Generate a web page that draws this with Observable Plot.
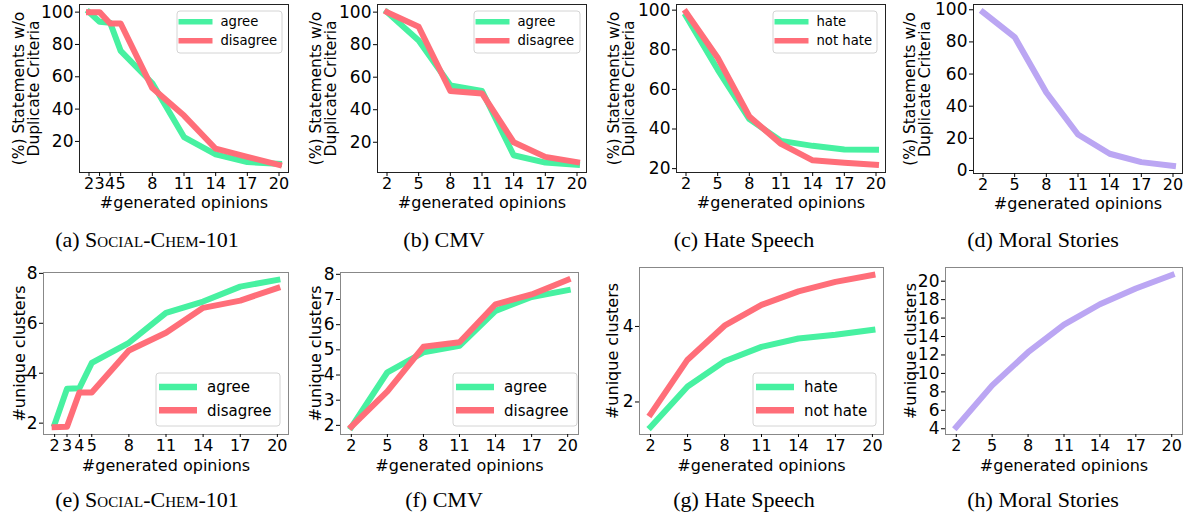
<!DOCTYPE html>
<html><head><meta charset="utf-8">
<script src="https://cdn.jsdelivr.net/npm/d3@7"></script>
<script src="https://cdn.jsdelivr.net/npm/@observablehq/plot@0.6"></script>
<style>
body{margin:0;background:#fff;}
#root{position:relative;width:1192px;height:519px;overflow:hidden;background:#fff}
.panel{position:absolute}
.panel svg{overflow:visible}
.cap{position:absolute;font-family:"Liberation Serif","Times New Roman",serif;font-size:22px;line-height:24px;white-space:nowrap;transform:translateX(-50%);color:#000}
.sc{font-variant:small-caps}
</style></head><body><div id="root"></div>
<script>
// ---- data ----
const opinionsFine = [2,3,4,5,8,11,14,17,20];
const opinions = [2,5,8,11,14,17,20];

const dupSocialAgree    = [100,94,93.5,76,56,22.7,12,7.2,6.2];
const dupSocialDisagree = [100,100,93,93,53,36,15.5,10.5,5.5];
const dupCmvAgree       = [100,82.5,55,51.5,12,7.5,6.1];
const dupCmvDisagree    = [100,91,51.5,50,20,11,7.8];
const dupHateHate       = [97,70,45,34,31.5,29.7,29.5];
const dupHateNotHate    = [99,76,46.3,32.5,24.2,23,21.9];
const dupMoral          = [98.5,83,48.5,22.4,10.4,5.2,2.9];

const cluSocialAgree    = [1.96,3.38,3.4,4.41,5.22,6.42,6.87,7.47,7.74];
const cluSocialDisagree = [1.84,1.86,3.23,3.23,4.91,5.62,6.62,6.91,7.41];
const cluCmvAgree       = [1.93,4.11,4.9,5.16,6.55,7.1,7.37];
const cluCmvDisagree    = [1.95,3.35,5.12,5.3,6.81,7.2,7.78];
const cluHateHate       = [1.34,2.41,3.08,3.46,3.68,3.78,3.91];
const cluHateNotHate    = [1.68,3.12,4.02,4.57,4.93,5.18,5.36];
const cluMoral          = [4.2,8.7,12.3,15.3,17.5,19.2,20.66];

const ticksDup    = [20,40,60,80,100];
const ticksDupD   = [0,20,40,60,80,100];
const ticksCluE   = [2,4,6,8];
const ticksCluF   = [2,3,4,5,6,7,8];
const ticksCluG   = [2,4];
const ticksCluH   = [4,6,8,10,12,14,16,18,20];

const labelAgree = ["agree","disagree"];
const labelHate = ["hate","not hate"];
const yLabelDup = "(%) Statements w/o\nDuplicate Criteria";
const yLabelClu = "#unique clusters";
const xLabel = "#generated opinions";

const captions = [
  ["(a) ", "Social-Chem-101", true], ["(b) ", "CMV"], ["(c) ", "Hate Speech"], ["(d) ", "Moral Stories"],
  ["(e) ", "Social-Chem-101", true], ["(f) ", "CMV"], ["(g) ", "Hate Speech"], ["(h) ", "Moral Stories"]
];

const GREEN = "#47f1a1", RED = "#ff6e79", PURPLE = "#bba6f3";

// ---- layout ----
const L1 = {w:105,h:42,top:7,first:10.7,gap:19,padL:1.5,len:34,tgap:8,font:13.2,sw:5.5};
const L2 = {w:124,h:53,bottom:8,first:14,gap:23.3,padL:3,len:38,tgap:10,font:15,sw:6.5};
const R1 = {xlabDy:30, xTick:4, xPadT:1, frame:"#222", ylabFont:15.5, ylabLH:0.97};
const R2 = {xlabDy:31, xTick:3, xPadT:2, frame:"#888", ylabFont:16, ylabLH:1};

const panels = [
  {...R1,sx:0,sy:0,W:298,H:215,m:[4,10,43,79],xs:opinionsFine,xt:opinionsFine,yt:ticksDup,
   series:[{name:labelAgree[0],color:GREEN,v:dupSocialAgree},{name:labelAgree[1],color:RED,v:dupSocialDisagree}],
   legend:{...L1,right:6}, ylab:yLabelDup, ylabX:26},
  {...R1,sx:298,sy:0,W:298,H:215,m:[4,10,43,79],xs:opinions,xt:opinions,yt:ticksDup,
   series:[{name:labelAgree[0],color:GREEN,v:dupCmvAgree},{name:labelAgree[1],color:RED,v:dupCmvDisagree}],
   legend:{...L1,w:106,right:6}, ylab:yLabelDup, ylabX:323},
  {...R1,sx:596,sy:0,W:298,H:215,m:[4,9,43,80],xs:opinions,xt:opinions,yt:ticksDup,
   series:[{name:labelHate[0],color:GREEN,v:dupHateHate},{name:labelHate[1],color:RED,v:dupHateNotHate}],
   legend:{...L1,w:104,right:8}, ylab:yLabelDup, ylabX:621.5},
  {...R1,sx:894,sy:0,W:298,H:215,m:[4,10,42,79],xs:opinions,xt:opinions,yt:ticksDupD,
   series:[{name:"",color:PURPLE,v:dupMoral}],
   legend:null, ylab:yLabelDup, ylabX:917},
  {...R2,sx:0,sy:258,W:298,H:215,m:[14,10,39,43],xs:opinionsFine,xt:opinionsFine,yt:ticksCluE,
   series:[{name:labelAgree[0],color:GREEN,v:cluSocialAgree},{name:labelAgree[1],color:RED,v:cluSocialDisagree}],
   legend:{...L2,right:8}, ylab:yLabelClu, ylabX:19},
  {...R2,sx:298,sy:258,W:298,H:215,m:[14,18,39,42],xs:opinions,xt:opinions,yt:ticksCluF,
   series:[{name:labelAgree[0],color:GREEN,v:cluCmvAgree},{name:labelAgree[1],color:RED,v:cluCmvDisagree}],
   legend:{...L2,right:1}, ylab:yLabelClu, ylabX:315},
  {...R2,sx:596,sy:258,W:298,H:215,m:[9,11,39,43],xs:opinions,xt:opinions,yt:ticksCluG,
   series:[{name:labelHate[0],color:GREEN,v:cluHateHate},{name:labelHate[1],color:RED,v:cluHateNotHate}],
   legend:{...L2,w:123,right:7}, ylab:yLabelClu, ylabX:612},
  {...R2,sx:894,sy:258,W:298,H:215,m:[9,10,39,51],xs:opinions,xt:opinions,yt:ticksCluH,
   series:[{name:"",color:PURPLE,v:cluMoral}],
   legend:null, ylab:yLabelClu, ylabX:910}
];
const capX = [147,444,744,1043];
const capY = [228,488];

function legendMark(cfg) {
  return (index, scales, values, dims) => {
    const L = cfg.legend;
    const g = d3.create("svg:g").attr("text-anchor", "start");
    const fr = dims.width - dims.marginRight, ft = dims.marginTop, fb = dims.height - dims.marginBottom;
    const bx = fr - L.right - L.w;
    const by = L.top != null ? ft + L.top : fb - L.bottom - L.h;
    g.append("rect").attr("x", bx).attr("y", by).attr("width", L.w).attr("height", L.h)
      .attr("rx", 3).attr("fill", "#fff").attr("fill-opacity", 0.8).attr("stroke", "#d4d4d4");
    cfg.series.forEach((s, i) => {
      const cy = by + L.first + i * L.gap;
      g.append("line").attr("x1", bx + L.padL).attr("x2", bx + L.padL + L.len)
        .attr("y1", cy).attr("y2", cy).attr("stroke", s.color).attr("stroke-width", L.sw);
      g.append("text").attr("x", bx + L.padL + L.len + L.tgap).attr("y", cy).attr("dy", "0.35em")
        .attr("text-anchor", "start").attr("font-size", L.font).attr("fill", "#000").text(s.name);
    });
    return g.node();
  };
}

const root = document.getElementById("root");
panels.forEach((p, k) => {
  const all = p.series.flatMap(s => s.v);
  const [lo, hi] = d3.extent(all);
  const pad = (hi - lo) * 0.05;
  const xPad = (d3.max(p.xs) - d3.min(p.xs)) * 0.05;
  const marks = [
    Plot.frame({stroke: p.frame, strokeWidth: 1}),
    Plot.axisY({ticks: p.yt, tickFormat: d => String(d), tickSize: 4, tickPadding: 2, fontSize: 17, label: null}),
    Plot.axisX({ticks: p.xt, tickFormat: d => String(d), tickSize: p.xTick, tickPadding: p.xPadT, fontSize: 16, label: null}),
    ...p.series.map(s => Plot.line(s.v.map((v, i) => ({x: p.xs[i], y: v})),
      {x: "x", y: "y", stroke: s.color, strokeWidth: 6, strokeLinecap: "square", strokeLinejoin: "round"})),
    Plot.text([xLabel], {text: d => d, frameAnchor: "bottom", dy: p.xlabDy, fontSize: 16, lineAnchor: "middle"}),
    Plot.text([p.ylab], {text: d => d, frameAnchor: "left", rotate: -90, dx: p.ylabX - (p.sx + p.m[3]),
      fontSize: p.ylabFont, lineHeight: p.ylabLH, lineAnchor: "middle", textAnchor: "middle"})
  ];
  if (p.legend) marks.push(legendMark(p));
  const chart = Plot.plot({
    width: p.W, height: p.H,
    marginTop: p.m[0], marginRight: p.m[1], marginBottom: p.m[2], marginLeft: p.m[3],
    x: {domain: [d3.min(p.xs) - xPad, d3.max(p.xs) + xPad]},
    y: {domain: [lo - pad, hi + pad]},
    style: {fontFamily: "DejaVu Sans", color: "#000", background: "transparent", overflow: "visible"},
    marks
  });
  const div = document.createElement("div");
  div.className = "panel";
  div.style.left = p.sx + "px";
  div.style.top = p.sy + "px";
  div.appendChild(chart);
  root.appendChild(div);

  const c = captions[k];
  const cap = document.createElement("div");
  cap.className = "cap";
  cap.style.left = capX[k % 4] + "px";
  cap.style.top = capY[Math.floor(k / 4)] + "px";
  cap.appendChild(document.createTextNode(c[0]));
  const sp = document.createElement("span");
  if (c[2]) sp.className = "sc";
  sp.textContent = c[1];
  cap.appendChild(sp);
  root.appendChild(cap);
});
</script>
</body></html>
